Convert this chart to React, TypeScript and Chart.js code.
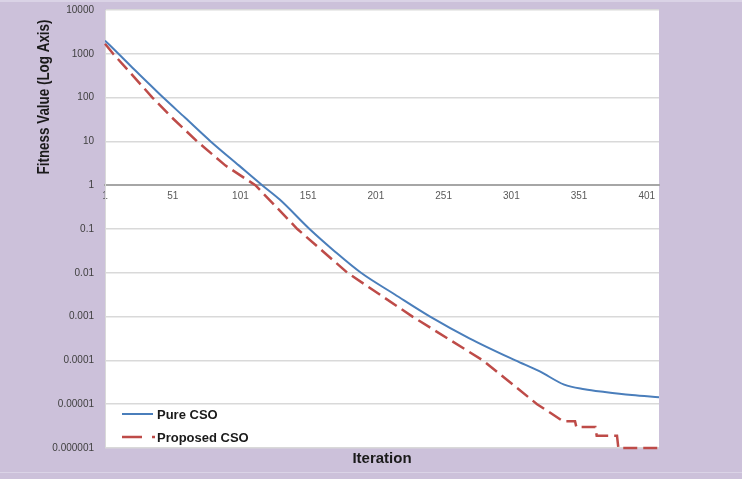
import React, { useEffect, useRef } from "react";
import { Chart, registerables } from "chart.js";

Chart.register(...registerables);

// ---- data ----
const seriesNames = ["Pure CSO", "Proposed CSO"];

const pureIter = [1, 10, 20, 30, 44, 60, 79, 100, 117, 130, 152, 170, 190, 215, 241, 270, 304, 322, 340, 355, 370, 390, 410];
const pureVals = [2000, 1070, 525, 263, 100, 35, 10, 2.8, 1, 0.47, 0.1, 0.032, 0.01, 0.0032, 0.001, 0.00032, 0.0001, 0.000056, 0.000028, 0.000022, 0.000019, 0.0000162, 0.0000145];

const propIter = [1, 7, 20, 36, 50, 69, 90, 112, 143, 180, 228, 280, 320, 330, 339, 348, 349, 363, 364, 379, 380, 410];
const propVals = [1700, 1000, 360, 100, 36, 10, 2.8, 1, 0.1, 0.01, 0.001, 0.0001, 0.00001, 0.0000063, 0.0000041, 0.0000041, 0.000003, 0.000003, 0.0000019, 0.0000019, 0.000001, 0.000001];

const xTicks = [1, 51, 101, 151, 201, 251, 301, 351, 401];
const yTicks = [0.000001, 0.00001, 0.0001, 0.001, 0.01, 0.1, 1, 10, 100, 1000, 10000];
const yTickLabels = ["0.000001", "0.00001", "0.0001", "0.001", "0.01", "0.1", "1", "10", "100", "1000", "10000"];

const yTitle = "Fitness Value (Log Axis)";
const xTitle = "Iteration";

const BLUE = "#4A7EBB";
const RED = "#BE4B48";
const BG = "#CCC1DA";

const decor = {
  id: "decor",
  beforeDraw(chart: any) {
    const { ctx, chartArea: a, width, height } = chart;
    ctx.save();
    ctx.fillStyle = BG;
    ctx.fillRect(0, 0, width, height);
    ctx.fillStyle = "#DAD3E6";
    ctx.fillRect(0, 0, width, 2);
    ctx.fillRect(0, 472, width, 1);
    ctx.fillStyle = "#ffffff";
    ctx.fillRect(a.left, a.top, a.right - a.left, a.bottom - a.top);
    ctx.restore();
  },
  afterDraw(chart: any) {
    const { ctx, chartArea: a } = chart;
    ctx.save();
    // y title (condensed to match the narrow original face)
    ctx.fillStyle = "#1a1a1a";
    ctx.font = 'bold 16px "Liberation Sans", sans-serif';
    ctx.textAlign = "center";
    ctx.textBaseline = "middle";
    const tw = ctx.measureText(yTitle).width;
    ctx.save();
    ctx.translate(45, 97);
    ctx.rotate(-Math.PI / 2);
    ctx.scale(155 / tw, 1);
    ctx.fillText(yTitle, 0, 0);
    ctx.restore();
    // x title
    ctx.font = 'bold 15px "Liberation Sans", sans-serif';
    ctx.fillText(xTitle, (a.left + a.right) / 2, 459);
    // legend
    const lx = a.left + 17;
    const y1 = a.bottom - 34;
    const y2 = a.bottom - 11;
    ctx.lineWidth = 2;
    ctx.strokeStyle = BLUE;
    ctx.beginPath();
    ctx.moveTo(lx, y1);
    ctx.lineTo(lx + 31, y1);
    ctx.stroke();
    ctx.strokeStyle = RED;
    ctx.lineWidth = 2.5;
    ctx.setLineDash([20, 10]);
    ctx.beginPath();
    ctx.moveTo(lx, y2);
    ctx.lineTo(lx + 33, y2);
    ctx.stroke();
    ctx.setLineDash([]);
    ctx.font = 'bold 13px "Liberation Sans", sans-serif';
    ctx.textAlign = "left";
    ctx.fillStyle = "#1a1a1a";
    ctx.fillText(seriesNames[0], lx + 35, y1 + 1);
    ctx.fillText(seriesNames[1], lx + 35, y2 + 1);
    ctx.restore();
  },
};

function yLabel(v: number): string {
  for (let i = 0; i < yTicks.length; i++) {
    if (Math.abs(Math.log10(v) - Math.log10(yTicks[i])) < 1e-6) return yTickLabels[i];
  }
  return "";
}

export default function App() {
  const ref = useRef<HTMLCanvasElement | null>(null);
  useEffect(() => {
    if (!ref.current) return;
    const chart = new Chart(ref.current, {
      type: "line",
      data: {
        datasets: [
          {
            label: seriesNames[0],
            data: pureIter.map((x, i) => ({ x, y: pureVals[i] })),
            borderColor: BLUE,
            borderWidth: 2,
            pointRadius: 0,
            cubicInterpolationMode: "monotone",
            fill: false,
          },
          {
            label: seriesNames[1],
            data: propIter.map((x, i) => ({ x, y: propVals[i] })),
            borderColor: RED,
            borderWidth: 2.5,
            borderDash: [14, 6],
            pointRadius: 0,
            tension: 0,
            fill: false,
            clip: false as any,
          },
        ],
      },
      options: {
        animation: false,
        responsive: false,
        layout: { padding: { left: 0, right: 83, top: 10, bottom: 31 } },
        plugins: { legend: { display: false }, tooltip: { enabled: false } },
        scales: {
          x: {
            type: "linear",
            min: 1,
            max: 410,
            position: { y: 1 } as any,
            afterFit: (s: any) => {
              s.height = 0;
            },
            afterBuildTicks: (s: any) => {
              s.ticks = xTicks.map((v) => ({ value: v }));
            },
            grid: { display: false, drawTicks: false },
            border: { display: true, color: "#A6A6A6", width: 2 },
            ticks: {
              autoSkip: false,
              maxRotation: 0,
              padding: 5,
              color: "#595959",
              font: { family: '"Liberation Sans", sans-serif', size: 10 },
              callback: (v: any) => String(v),
            },
          },
          y: {
            type: "logarithmic",
            min: 0.000001,
            max: 10000,
            afterFit: (s: any) => {
              s.width = 105;
              s.paddingTop = 6;
              s.paddingBottom = 6;
            },
            afterBuildTicks: (s: any) => {
              s.ticks = yTicks.map((v) => ({ value: v }));
            },
            grid: { color: "#D9D9D9", lineWidth: 1.5, drawTicks: false },
            border: { display: true, color: "#D9D9D9", width: 1 },
            ticks: {
              padding: 11,
              color: "#404040",
              font: { family: '"Liberation Sans", sans-serif', size: 10 },
              callback: (v: any) => yLabel(Number(v)),
            },
          },
        },
      },
      plugins: [decor],
    } as any);
    return () => chart.destroy();
  }, []);
  return (
    <div style={{ position: "fixed", left: 0, top: 0, width: 742, height: 479 }}>
      <canvas ref={ref} width={742} height={479} style={{ display: "block" }} />
    </div>
  );
}
